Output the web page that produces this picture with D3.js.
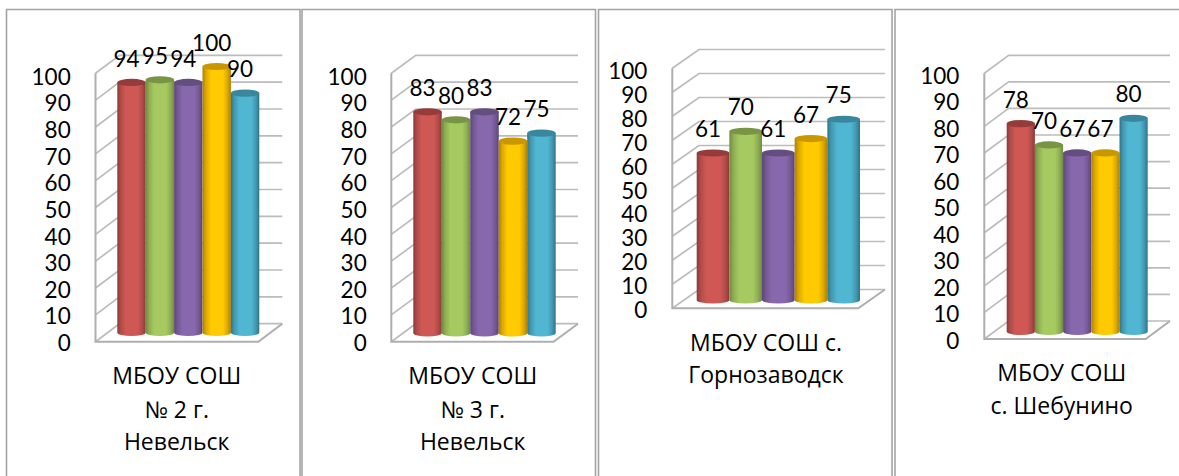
<!DOCTYPE html>
<html><head><meta charset="utf-8">
<script src="https://cdn.jsdelivr.net/npm/d3@7/dist/d3.min.js"></script>
<style>html,body{margin:0;padding:0;background:#fff;overflow:hidden}svg{display:block}text{font-family:Lato,"Open Sans",sans-serif;fill:#000}</style>
</head><body><svg id="c" width="1179" height="476"></svg>
<script>
// data
const schoolLines = [["МБОУ СОШ","№ 2 г.","Невельск"],["МБОУ СОШ","№ 3 г.","Невельск"],["МБОУ СОШ с.","Горнозаводск"],["МБОУ СОШ","с. Шебунино"]];
const values1 = [94,95,94,100,90];
const values2 = [83,80,83,72,75];
const values3 = [61,70,61,67,75];
const values4 = [78,70,67,67,80];
const tickValues = [0,10,20,30,40,50,60,70,80,90,100];
const seriesIds = ["s1","s2","s3","s4","s5"];
const sideColors = ["#8a3a38","#6f8a3e","#5a4576","#b07f00","#2f7488"];
const midColors = ["#cf5855","#a6c962","#8868ad","#ffca00","#50b6d2"];
const capColors = ["#953c3a","#7a9445","#644e80","#c99700","#39879c"];
// layout
const layouts = [
 {box:[6.5,9.5,293.5],fl:95.5,fr:258.3,depthX:24,depthY:18,ft:73.3,fb:341.7,barL:117.3,barR:259.3,barTop:66.5,barBase:332.5,labelX:70.7,labTop:76,labBot:342.5,catX:176.7,catY:[376,410,442]},
 {box:[302,9.5,293.5],fl:391.3,fr:553.5,depthX:24.5,depthY:18,ft:73.3,fb:341.7,barL:413.3,barR:555.7,barTop:66.5,barBase:333,labelX:366.7,labTop:76,labBot:342.5,catX:472.7,catY:[376,410,442]},
 {box:[598.5,9.5,293.5],fl:672.3,fr:858.3,depthX:26.7,depthY:18.8,ft:68.3,fb:308.3,barL:696.7,barR:860,barTop:59,barBase:300,labelX:647.3,labTop:70.7,labBot:309.3,catX:766,catY:[343,375]},
 {box:[895,9.5,290],fl:984.3,fr:1145.7,depthX:24.3,depthY:18,ft:73.3,fb:339,barL:1006.7,barR:1147.7,barTop:65,barBase:331.5,labelX:959.3,labTop:75,labBot:340,catX:1061.7,catY:[373,406]}
];
const seriesByPanel = [values1,values2,values3,values4];
const gridColor = "#bcbcbc", borderColor = "#a3a3a3";
const fontSize = 22.5;

const svg = d3.select("#c");
svg.append("rect").attr("width",1179).attr("height",476).attr("fill","#fff");
const defs = svg.append("defs");
seriesIds.forEach((id,i)=>{
  const g = defs.append("linearGradient").attr("id",id);
  [[0,sideColors[i]],[.12,d3.interpolateRgb(sideColors[i],midColors[i])(.55)],[.3,midColors[i]],[.72,midColors[i]],[.88,d3.interpolateRgb(sideColors[i],midColors[i])(.55)],[1,sideColors[i]]]
    .forEach(([o,c])=>g.append("stop").attr("offset",o).attr("stop-color",c));
});

layouts.forEach((L,p)=>{
  const vals = seriesByPanel[p];
  const g = svg.append("g");
  g.append("path").attr("d",`M${L.box[0]},476V${L.box[1]}H${L.box[0]+L.box[2]}V476`)
    .attr("fill","none").attr("stroke",borderColor).attr("stroke-width",1.6);
  const yFront = d3.scaleLinear().domain([0,100]).range([L.fb,L.ft]);
  const yBar = d3.scaleLinear().domain([0,100]).range([L.barBase,L.barTop]);
  const yLabel = d3.scaleLinear().domain([0,100]).range([L.labBot,L.labTop]);
  const x = d3.scaleBand().domain(d3.range(vals.length)).range([L.barL,L.barR]).padding(0);
  const bl = L.fl+L.depthX, brx = L.fr+L.depthX;
  const grid = g.append("g").attr("fill","none").attr("stroke",gridColor).attr("stroke-width",1.7);
  grid.selectAll("path").data(tickValues).join("path")
    .attr("d",d=>`M${L.fl},${yFront(d)}L${bl},${yFront(d)-L.depthY}H${brx}`);
  grid.append("path").attr("stroke-width",2).attr("stroke","#aeaeae")
    .attr("d",`M${L.fl},${yFront(100)}V${yFront(0)}H${L.fr}L${brx},${yFront(0)-L.depthY}`);
  const rx = x.bandwidth()/2, ry = 3.6;
  const bars = g.append("g").selectAll("g").data(vals).join("g");
  bars.append("path").attr("fill",(d,i)=>`url(#${seriesIds[i]})`)
    .attr("d",(d,i)=>`M${x(i)},${yBar(d)}V${yBar(0)}A${rx},${ry} 0 0 0 ${x(i)+2*rx},${yBar(0)}V${yBar(d)}Z`);
  bars.append("ellipse").attr("fill",(d,i)=>capColors[i])
    .attr("cx",(d,i)=>x(i)+rx).attr("cy",d=>yBar(d)).attr("rx",rx).attr("ry",ry);
  g.append("g").selectAll("text").data(vals).join("text")
    .attr("x",(d,i)=>x(i)+rx-5).attr("y",d=>yBar(d)-24).attr("dy",".36em")
    .attr("text-anchor","middle").attr("font-size",fontSize).text(d=>d);
  const ax = g.append("g").attr("transform",`translate(${L.labelX},0)`)
    .call(d3.axisLeft(yLabel).tickValues(tickValues).tickSize(0).tickPadding(0));
  ax.select(".domain").remove();
  ax.selectAll("text").attr("font-size",fontSize).attr("dy",".36em").style("font-family",'Lato,"Open Sans",sans-serif').attr("fill","#000");
  g.append("g").selectAll("text").data(schoolLines[p]).join("text")
    .attr("x",L.catX).attr("y",(d,i)=>L.catY[i]).attr("dy",".36em")
    .attr("text-anchor","middle").attr("font-size",23).style("font-family",'"Open Sans",sans-serif').text(d=>d);
});
</script></body></html>
